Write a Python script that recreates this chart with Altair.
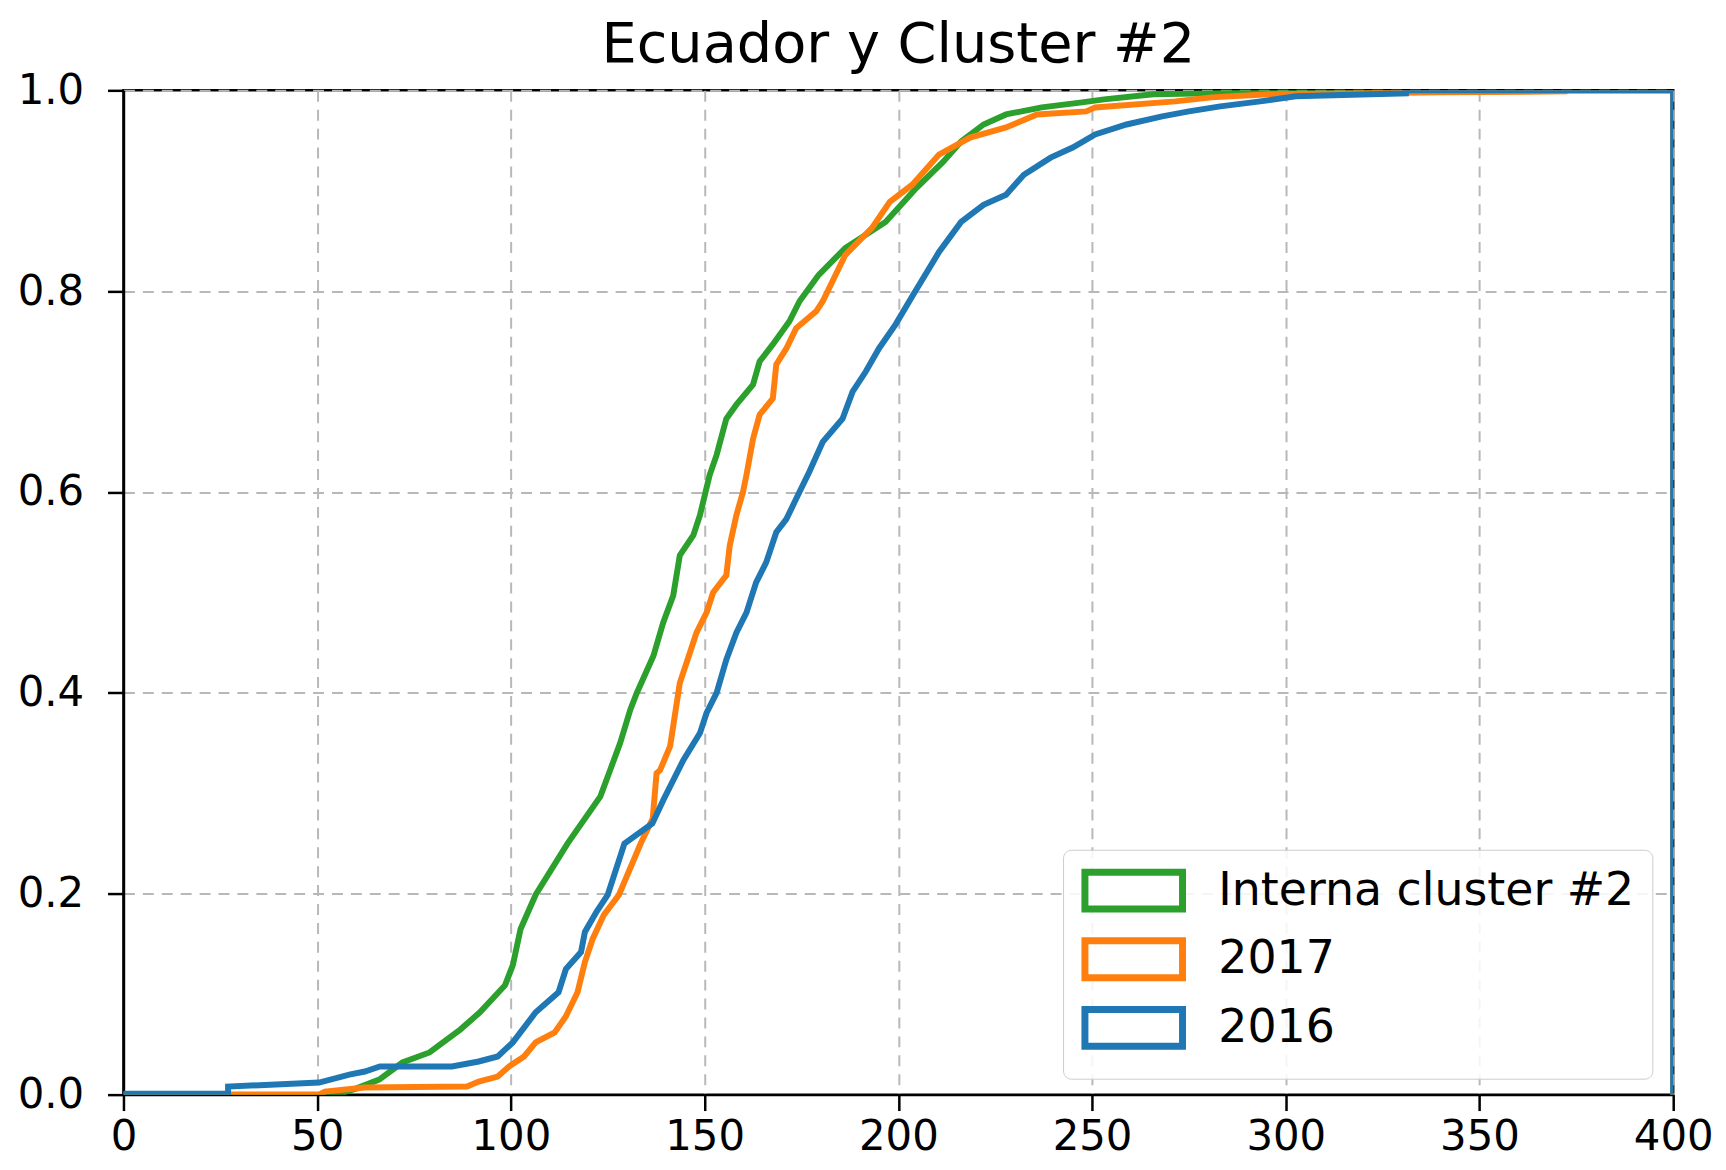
import altair as alt
import pandas as pd

# Cumulative step curves
green_x = [0, 55, 60, 66, 72, 79, 87, 92, 98.5, 100.5, 102.5, 106.4, 114.6, 123.1, 125.6, 128.2,
           130.8, 132.5, 136.8, 139.3, 141.9, 143.6, 147.1, 148.8, 151.3, 153.1, 155.6, 158.2,
           162.5, 164.2, 167.6, 171.9, 174.5, 179.4, 186.3, 196.7, 204.7, 211.6, 216.2, 222,
           227.8, 237, 247.4, 253.1, 265.8, 294.6, 296, 400, 400]
green_y = [0, 0, 0.006, 0.015, 0.032, 0.042, 0.065, 0.082, 0.109, 0.129, 0.165, 0.199, 0.25,
           0.297, 0.323, 0.350, 0.383, 0.400, 0.437, 0.470, 0.497, 0.537, 0.557, 0.577, 0.617,
           0.637, 0.673, 0.687, 0.707, 0.730, 0.747, 0.770, 0.790, 0.816, 0.843, 0.869, 0.903,
           0.929, 0.949, 0.966, 0.976, 0.983, 0.988, 0.991, 0.996, 0.998, 1.0, 1.0, 0]

orange_x = [0, 50.5, 52, 62.3, 88.7, 91.7, 96.6, 99.5, 103.4, 106.4, 111.3, 114.2, 117.2, 119.1,
            121.1, 124, 127.9, 133.5, 136.6, 137.6, 138.5, 141.1, 143.6, 146.2, 147.9, 150.5,
            152.2, 155.6, 156.5, 158.2, 159.9, 160.8, 162.5, 164.2, 167.6, 168.5, 171.1, 173.6,
            178.8, 180.5, 186.3, 193.2, 197.8, 203.6, 210.5, 218.5, 227.8, 235.8, 248.5, 250.8,
            271.5, 280.8, 295.7, 340, 372, 372, 400, 400]
orange_y = [0, 0, 0.003, 0.007, 0.008, 0.013, 0.018, 0.028, 0.038, 0.052, 0.062, 0.078, 0.102,
            0.132, 0.155, 0.179, 0.199, 0.25, 0.275, 0.32, 0.323, 0.347, 0.410, 0.440, 0.460,
            0.480, 0.500, 0.517, 0.547, 0.577, 0.600, 0.617, 0.653, 0.677, 0.693, 0.727, 0.743,
            0.763, 0.780, 0.790, 0.836, 0.863, 0.889, 0.906, 0.936, 0.953, 0.963, 0.976, 0.979,
            0.983, 0.989, 0.993, 0.996, 0.998, 0.999, 1.0, 1.0, 0]

blue_x = [0, 27, 27, 50.5, 58.3, 62.3, 66.2, 84.8, 91.7, 96.6, 100.5, 106.4, 112.3, 114.2, 118.1,
          119.1, 122.1, 125, 129.3, 136.5, 139.3, 144.5, 148.8, 150.5, 153.1, 155.6, 158.2, 160.8,
          163.3, 165.9, 168.5, 171.1, 173.6, 177, 180.5, 185.6, 188.2, 191.6, 195, 199.3, 203.6,
          210.5, 216.2, 222, 227.8, 232.4, 239.3, 245, 250.8, 258.9, 268.1, 275, 283.1, 293.4,
          302.6, 331, 331, 400, 400]
blue_y = [0.001, 0.001, 0.008, 0.012, 0.020, 0.023, 0.028, 0.028, 0.033, 0.038, 0.052, 0.082,
          0.102, 0.125, 0.142, 0.162, 0.182, 0.199, 0.25, 0.27, 0.293, 0.333, 0.360, 0.380, 0.400,
          0.433, 0.460, 0.480, 0.510, 0.530, 0.560, 0.573, 0.593, 0.620, 0.650, 0.673, 0.700,
          0.720, 0.743, 0.767, 0.795, 0.839, 0.869, 0.886, 0.896, 0.916, 0.933, 0.943, 0.956,
          0.966, 0.974, 0.979, 0.984, 0.989, 0.994, 0.997, 1.0, 1.0, 0]

series_names = ["Interna cluster #2", "2017", "2016"]
series_colors = ["#2ca02c", "#ff7f0e", "#1f77b4"]
x_ticks = [0, 50, 100, 150, 200, 250, 300, 350, 400]
y_ticks = [0.0, 0.2, 0.4, 0.6, 0.8, 1.0]


def frame(name, xs, ys):
    return pd.DataFrame({"x": xs, "y": ys, "serie": name, "idx": list(range(len(xs)))})


df = pd.concat([
    frame(series_names[0], green_x, green_y),
    frame(series_names[1], orange_x, orange_y),
    frame(series_names[2], blue_x, blue_y),
], ignore_index=True)

FONT = "DejaVu Sans"

base = alt.Chart(df).mark_line(strokeWidth=6, clip=True, strokeCap="butt").encode(
    x=alt.X("x:Q", scale=alt.Scale(domain=[0, 400], nice=False),
            axis=alt.Axis(values=x_ticks, format="d", title=None, labelPadding=6,
                          labelFlush=False, labelOverlap=False)),
    y=alt.Y("y:Q", scale=alt.Scale(domain=[0, 1], nice=False),
            axis=alt.Axis(values=y_ticks, format=".1f", title=None, labelPadding=24,
                          labelFlush=False, labelOverlap=False)),
    color=alt.Color("serie:N", scale=alt.Scale(domain=series_names, range=series_colors),
                    legend=alt.Legend(orient="none", legendX=944, legendY=763, title=None,
                                      symbolType="M-2.65,-1H2.65V1H-2.65Z", symbolSize=1369,
                                      symbolStrokeWidth=7, symbolFillColor="white",
                                      symbolOpacity=1, symbolOffset=30,
                                      labelFont=FONT, labelFontSize=46, labelColor="black",
                                      labelOffset=62, rowPadding=3, padding=18,
                                      fillColor="rgba(255,255,255,0.85)", strokeColor="#cccccc",
                                      cornerRadius=8, labelLimit=1000)),
    order="idx:Q",
)

layers = [base.transform_filter(alt.datum.serie == s) for s in series_names]

chart = alt.layer(*layers).properties(
    width=1557,
    height=1009,
    title=alt.TitleParams("Ecuador y Cluster #2", font=FONT, fontSize=56, fontWeight="normal",
                          color="black", anchor="middle", offset=-5),
    autosize=alt.AutoSizeParams(type="none"),
    padding={"left": 116, "top": 80, "right": 45, "bottom": 70},
).configure_axis(
    domainColor="black", domainWidth=2.5, tickColor="black", tickWidth=2.5, tickSize=16,
    labelFont=FONT, labelFontSize=42, labelColor="black",
    grid=True, gridColor="#b8b8b8", gridDash=[11, 8], gridWidth=2, gridOpacity=1,
).configure_view(stroke="black", strokeWidth=2.5)

chart.save("out.html", embed_options={"renderer": "svg", "actions": False})
